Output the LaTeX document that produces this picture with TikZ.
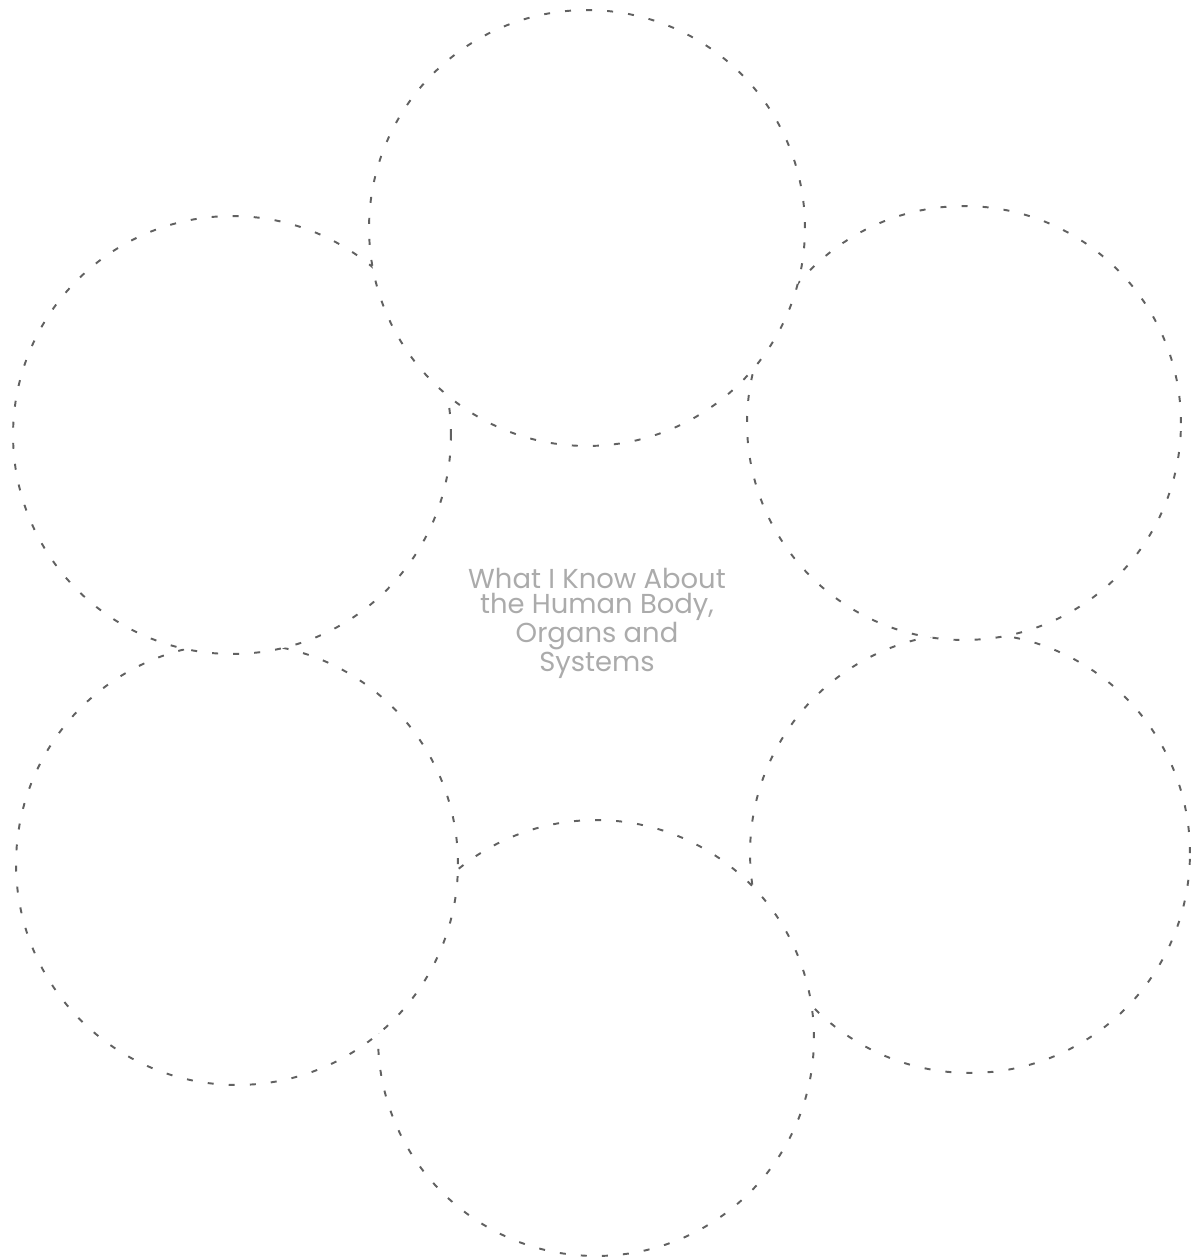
\documentclass[tikz,border=0pt]{standalone}
\usepackage{fontspec}
\setmainfont{Poppins}
\begin{document}
\begin{tikzpicture}[x=0.02cm,y=-0.02cm,
  bubble/.style={circle,draw=black!62,fill=white,line width=1.1pt,dash pattern=on 3.4pt off 8.6pt,inner sep=0pt},
  centertext/.style={align=center,text=black!33,font=\fontsize{15.6}{14.4}\selectfont}]
\useasboundingbox (0,0) rectangle (1191,1259);
\node[bubble,minimum size=8.80cm] (lr) at (970,853) {};
\node[bubble,minimum size=8.72cm] (bot) at (596,1038) {};
\node[bubble,minimum size=8.84cm] (ll) at (237,864) {};
\node[bubble,minimum size=8.76cm] (ul) at (232,435) {};
\node[bubble,minimum size=8.68cm] (ur) at (964,423) {};
\node[bubble,minimum size=8.72cm] (top) at (587,228) {};
\node[centertext] (title) at (597,623) {What I Know About\\the Human Body,\\Organs and\\Systems};
\end{tikzpicture}
\end{document}
